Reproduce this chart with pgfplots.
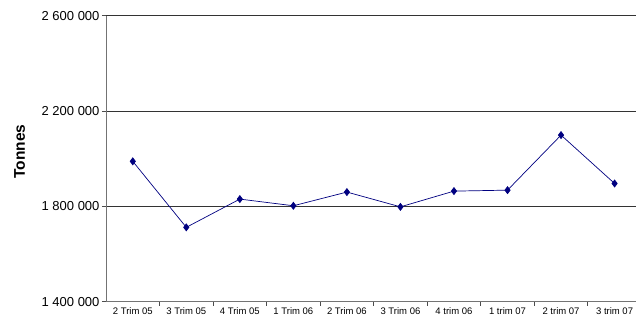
\documentclass[border=0pt]{standalone}
\usepackage{fontspec}
\setmainfont{Liberation Sans}
\usepackage{pgfplots}
\pgfplotsset{compat=1.18}
\definecolor{navyline}{RGB}{0,0,128}
\begin{document}
\begin{tikzpicture}[x=1pt,y=1pt]
\useasboundingbox (-106pt,-18.3pt) rectangle (530pt,301.7pt);
\begin{axis}[
  at={(0,0)}, anchor=south west,
  scale only axis, width=530pt, height=286pt,
  xmin=-0.5, xmax=9.4,
  ymin=1400000, ymax=2600000,
  scaled y ticks=false,
  axis lines*=left,
  axis line style={draw=black!55, line width=0.9pt},
  ytick={1400000,1800000,2200000,2600000},
  yticklabels={1 400 000,1 800 000,2 200 000,2 600 000},
  ymajorgrids, grid style={black!80, line width=0.8pt},
  xtick={0,...,9},
  xticklabels={2 Trim 05,3 Trim 05,4 Trim 05,1 Trim 06,2 Trim 06,3 Trim 06,4 trim 06,1 trim 07,2 trim 07,3 trim 07},
  minor xtick={0.5,1.5,...,8.5},
  major x tick style={draw=none},
  minor tick length=4pt,
  major tick length=4pt,
  tick align=outside,
  tick style={black!70, line width=0.8pt},
  yticklabel style={font=\fontsize{13}{15}\selectfont, xshift=1pt},
  xticklabel style={font=\fontsize{9.5}{11}\selectfont, yshift=2pt},
  ylabel={Tonnes},
  ylabel style={at={(axis description cs:-0.163,0.525)}, anchor=center, font=\fontsize{15.5}{17}\selectfont\bfseries},
  clip=false,
]
\addplot[color=navyline, line width=0.7pt, mark=diamond*, mark size=3.5pt, mark options={fill=navyline, draw=navyline}]
coordinates {
(0,1989000) (1,1712000) (2,1830500) (3,1802500) (4,1860000)
(5,1798000) (6,1864000) (7,1868000) (8,2099000) (9,1896000)
};
\end{axis}
\end{tikzpicture}
\end{document}
